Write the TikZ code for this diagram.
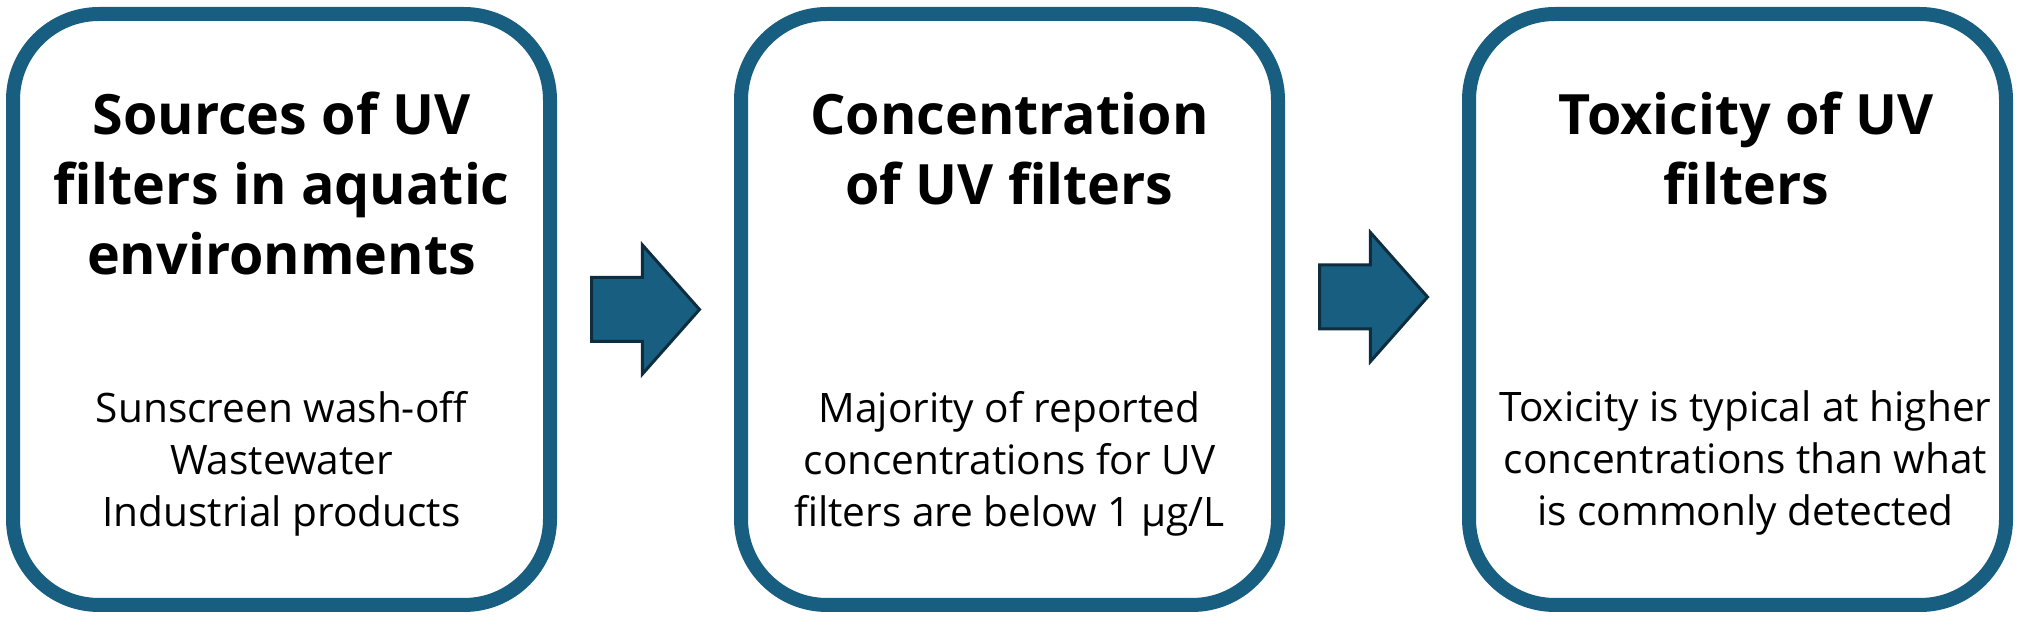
\documentclass[tikz,border=0pt]{standalone}
\usepackage{fontspec}
\setmainfont{Open Sans}
\usetikzlibrary{positioning,shapes.arrows,calc}
\definecolor{uvblue}{HTML}{175E80}
\definecolor{uvdark}{HTML}{0E2E40}
\tikzstyle{stagebox}=[rectangle, rounded corners=43pt, draw=uvblue, line width=7pt,
                    fill=white, minimum width=268.5pt, minimum height=295.5pt,
                    inner sep=0pt, outer sep=0pt]
\tikzstyle{headtxt}=[align=center, inner sep=0pt, outer sep=0pt,
                    font=\fontsize{27.8}{35}\selectfont\bfseries]
\tikzstyle{bodytxt}=[align=center, inner sep=0pt, outer sep=0pt,
                    font=\fontsize{20.3}{26}\selectfont]
\tikzstyle{barrow}=[single arrow, draw=uvdark, fill=uvblue, line width=1.5pt,
                    minimum height=54pt, inner xsep=0pt, inner ysep=15.25pt,
                    single arrow head extend=16.25pt, single arrow tip angle=97]
\begin{document}
\begin{tikzpicture}[x=0.5pt,y=-0.5pt]
\useasboundingbox (0,0) rectangle (2025,624);

\node (SRC) [stagebox] at (281.5,309.5) {};
\node (SRCHEAD) [headtxt, below=39pt of SRC.north] {Sources of UV\\filters in aquatic\\environments};
\node (SRCTXT) [bodytxt, below=188.5pt of SRC.north] {Sunscreen wash-off\\Wastewater\\Industrial products};

\node (CONC) [stagebox, right=95.5pt of SRC] {};
\node (CONCHEAD) [headtxt, below=39pt of CONC.north] {Concentration\\of UV filters};
\node (CONCTXT) [bodytxt, below=188.5pt of CONC.north] {Majority of reported\\concentrations for UV\\filters are below 1 µg/L};

\node (TOX) [stagebox, right=95.5pt of CONC] {};
\node (TOXHEAD) [headtxt, below=39pt of TOX.north, xshift=4.5pt] {Toxicity of UV\\filters};
\node (TOXTXT) [bodytxt, below=188.5pt of TOX.north, xshift=4pt] {Toxicity is typical at higher\\concentrations than what\\is commonly detected};

\node (ARR1) [barrow, right=20pt of SRC] {};
\node (ARR2) [barrow, right=20pt of CONC, yshift=6.25pt] {};

\end{tikzpicture}
\end{document}
